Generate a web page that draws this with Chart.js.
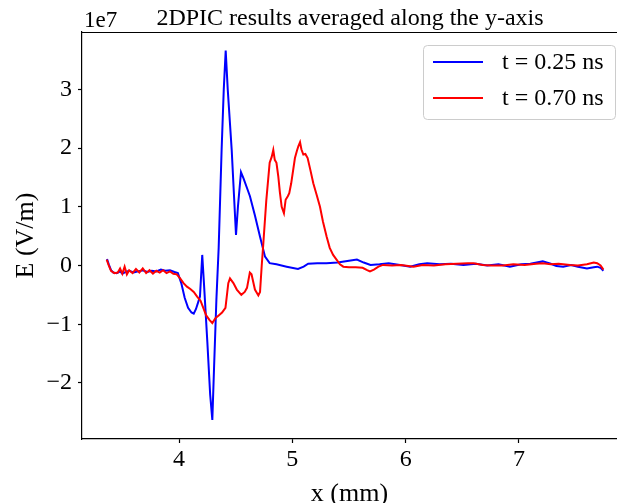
<!DOCTYPE html>
<html>
<head>
<meta charset="utf-8">
<script src="https://cdn.jsdelivr.net/npm/chart.js@4.4.1/dist/chart.umd.min.js"></script>
<style>
  html, body { margin: 0; padding: 0; background: #fff; overflow: hidden; }
  #wrap { width: 617px; height: 503px; }
</style>
</head>
<body>
<div id="wrap"><canvas id="Efield" width="617" height="503"></canvas></div>
<script>
// field values in units of 1e7 V/m, x in mm
var xBlue = [3.365, 3.38, 3.40, 3.42, 3.45, 3.48, 3.50, 3.53, 3.56, 3.60, 3.64, 3.68, 3.72, 3.76, 3.80, 3.84, 3.88, 3.92, 3.96, 3.99,
  4.02, 4.05, 4.08, 4.11, 4.13, 4.15, 4.17, 4.185, 4.205, 4.22, 4.25, 4.275, 4.294, 4.31, 4.33, 4.35, 4.376, 4.395, 4.412, 4.43,
  4.465, 4.485, 4.503, 4.52, 4.547, 4.57, 4.60, 4.626, 4.67, 4.715, 4.759, 4.80, 4.86, 4.95, 5.05, 5.10, 5.14, 5.22, 5.30, 5.40,
  5.50, 5.57, 5.63, 5.69, 5.77, 5.85, 5.95, 6.04, 6.12, 6.19, 6.30, 6.40, 6.51, 6.62, 6.72, 6.82, 6.92, 7.02, 7.10, 7.21,
  7.28, 7.33, 7.39, 7.46, 7.52, 7.60, 7.66, 7.69, 7.72, 7.745];
var eBlue = [0.11, 0.02, -0.08, -0.12, -0.13, -0.10, -0.14, -0.11, -0.09, -0.12, -0.10, -0.08, -0.11, -0.09, -0.10, -0.07, -0.09, -0.08, -0.11, -0.13,
  -0.30, -0.55, -0.72, -0.80, -0.82, -0.74, -0.62, -0.53, 0.18, -0.30, -1.30, -2.20, -2.63, -1.70, -0.58, 0.30, 1.97, 3.00, 3.66, 3.00,
  1.97, 1.20, 0.52, 1.00, 1.59, 1.48, 1.32, 1.18, 0.85, 0.49, 0.15, 0.04, 0.02, -0.02, -0.06, -0.02, 0.03, 0.04, 0.04, 0.05,
  0.08, 0.10, 0.05, 0.01, 0.02, 0.04, 0.01, -0.02, 0.02, 0.04, 0.02, 0.03, 0.01, 0.03, 0.00, 0.02, -0.02, 0.02, 0.03, 0.07,
  0.03, -0.01, -0.02, 0.01, -0.02, -0.05, -0.03, -0.02, -0.04, -0.09];

var xRed = [3.362, 3.38, 3.40, 3.43, 3.46, 3.48, 3.50, 3.52, 3.54, 3.56, 3.59, 3.62, 3.65, 3.68, 3.71, 3.74, 3.77, 3.80, 3.83, 3.86,
  3.89, 3.92, 3.95, 3.98, 4.01, 4.04, 4.07, 4.10, 4.13, 4.16, 4.19, 4.21, 4.24, 4.27, 4.294, 4.32, 4.35, 4.38, 4.41, 4.435,
  4.45, 4.48, 4.51, 4.55, 4.58, 4.60, 4.625, 4.64, 4.67, 4.70, 4.715, 4.73, 4.745, 4.77, 4.80, 4.818, 4.832, 4.845, 4.86, 4.876,
  4.89, 4.906, 4.926, 4.941, 4.96, 4.973, 4.99, 5.023, 5.04, 5.053, 5.068, 5.08, 5.097, 5.115, 5.135, 5.16, 5.185, 5.215, 5.244, 5.27,
  5.303, 5.33, 5.36, 5.39, 5.42, 5.45, 5.50, 5.56, 5.62, 5.66, 5.685, 5.72, 5.76, 5.80, 5.88, 5.96, 6.07, 6.15, 6.25, 6.35,
  6.45, 6.55, 6.60, 6.68, 6.76, 6.86, 6.95, 7.05, 7.15, 7.21, 7.28, 7.35, 7.45, 7.52, 7.60, 7.66, 7.69, 7.72, 7.745];
var eRed = [0.10, 0.00, -0.09, -0.13, -0.12, -0.05, -0.14, -0.02, -0.15, -0.08, -0.13, -0.06, -0.12, -0.05, -0.13, -0.08, -0.14, -0.09, -0.12, -0.08,
  -0.13, -0.10, -0.14, -0.15, -0.22, -0.30, -0.36, -0.40, -0.45, -0.53, -0.60, -0.70, -0.85, -0.93, -0.98, -0.90, -0.85, -0.80, -0.72, -0.30,
  -0.22, -0.30, -0.41, -0.50, -0.45, -0.38, -0.12, -0.15, -0.41, -0.51, -0.45, 0.00, 0.40, 1.10, 1.75, 1.85, 1.97, 1.80, 1.75, 1.52,
  1.25, 1.00, 0.89, 1.12, 1.18, 1.23, 1.40, 1.83, 1.95, 2.03, 2.10, 1.98, 1.89, 1.90, 1.83, 1.62, 1.40, 1.20, 1.00, 0.75,
  0.49, 0.30, 0.18, 0.10, 0.02, -0.02, -0.03, -0.03, -0.04, -0.08, -0.10, -0.07, -0.02, 0.01, 0.00, 0.01, -0.02, 0.01, 0.00, 0.02,
  0.03, 0.04, 0.04, 0.01, 0.00, 0.00, 0.02, 0.01, 0.03, 0.04, 0.02, 0.03, 0.01, 0.00, 0.02, 0.05, 0.04, 0.00, -0.07];

var xTicks = [4, 5, 6, 7];
var yTicks = [-2, -1, 0, 1, 2, 3];
var seriesLabels = ["t = 0.25 ns", "t = 0.70 ns"];
var titleText = "2DPIC results averaged along the y-axis";

function pts(xs, ys) {
  var out = [];
  for (var i = 0; i < xs.length; i++) out.push({x: xs[i], y: ys[i]});
  return out;
}

var serif = "'Liberation Serif', 'DejaVu Serif', serif";

var decor = {
  id: 'decor',
  afterDraw: function (chart) {
    var ctx = chart.ctx, a = chart.chartArea;
    ctx.save();
    // top frame
    ctx.strokeStyle = '#000';
    ctx.lineWidth = 1.2;
    ctx.beginPath();
    ctx.moveTo(a.left - 0.6, a.top + 0.5);
    ctx.lineTo(a.right, a.top + 0.5);
    ctx.stroke();
    // title + offset text
    ctx.fillStyle = '#000';
    ctx.textBaseline = 'alphabetic';
    ctx.font = '24px ' + serif;
    ctx.textAlign = 'center';
    ctx.fillText(titleText, 350, 25);
    ctx.font = '23px ' + serif;
    ctx.textAlign = 'left';
    ctx.fillText('1e7', 84, 27);
    // legend
    var lx = 423, ly = 45, lw = 192, lh = 74;
    ctx.beginPath();
    ctx.roundRect(lx + 0.5, ly + 0.5, lw, lh, 4);
    ctx.fillStyle = 'rgba(255,255,255,0.8)';
    ctx.fill();
    ctx.strokeStyle = '#cccccc';
    ctx.lineWidth = 1;
    ctx.stroke();
    var cols = ['#0000ff', '#ff0000'];
    var rows = [62, 98];
    ctx.font = '24px ' + serif;
    ctx.textBaseline = 'middle';
    for (var i = 0; i < 2; i++) {
      ctx.strokeStyle = cols[i];
      ctx.lineWidth = 2;
      ctx.beginPath();
      ctx.moveTo(433, rows[i]);
      ctx.lineTo(483, rows[i]);
      ctx.stroke();
      ctx.fillStyle = '#000';
      ctx.fillText(seriesLabels[i], 502, rows[i] + 1);
    }
    ctx.restore();
  }
};

var ctx = document.getElementById('Efield').getContext('2d');
var Efield = new Chart(ctx, {
  type: 'line',
  data: {
    datasets: [
      { label: seriesLabels[0], data: pts(xBlue, eBlue), borderColor: '#0000ff', backgroundColor: '#0000ff',
        borderWidth: 2, pointRadius: 0, tension: 0, order: 1 },
      { label: seriesLabels[1], data: pts(xRed, eRed), borderColor: '#ff0000', backgroundColor: '#ff0000',
        borderWidth: 2, pointRadius: 0, tension: 0, order: 0 }
    ]
  },
  options: {
    responsive: false,
    animation: false,
    layout: { padding: { top: 32, left: 0, right: 0, bottom: 0 } },
    plugins: { legend: { display: false }, tooltip: { enabled: false }, title: { display: false } },
    scales: {
      x: {
        type: 'linear', min: 3.144, max: 7.865,
        afterBuildTicks: function (s) { s.ticks = xTicks.map(function (v) { return {value: v}; }); },
        afterFit: function (s) { s.height = 64; },
        grid: { display: true, drawOnChartArea: false, drawTicks: true, tickLength: 4, color: '#000', tickWidth: 1.2 },
        border: { display: true, color: '#000', width: 1.2 },
        ticks: { color: '#000', font: { family: serif, size: 24 }, padding: 2, maxRotation: 0,
          callback: function (v) { return String(v); } },
        title: { display: true, text: 'x (mm)', color: '#000', font: { family: serif, size: 26, lineHeight: 0.7 }, padding: 0 }
      },
      y: {
        type: 'linear', min: -2.955, max: 3.977,
        afterBuildTicks: function (s) { s.ticks = yTicks.map(function (v) { return {value: v}; }); },
        afterFit: function (s) { s.width = 82; },
        grid: { display: true, drawOnChartArea: false, drawTicks: true, tickLength: 4, color: '#000', tickWidth: 1.2 },
        border: { display: true, color: '#000', width: 1.2 },
        ticks: { color: '#000', font: { family: serif, size: 24 }, padding: 6,
          callback: function (v) { return String(v).replace('-', '\u2212'); } },
        title: { display: true, text: 'E (V/m)', color: '#000', font: { family: serif, size: 26, lineHeight: 1 }, padding: { top: 13, bottom: 0 } }
      }
    }
  },
  plugins: [decor]
});
</script>
</body>
</html>
